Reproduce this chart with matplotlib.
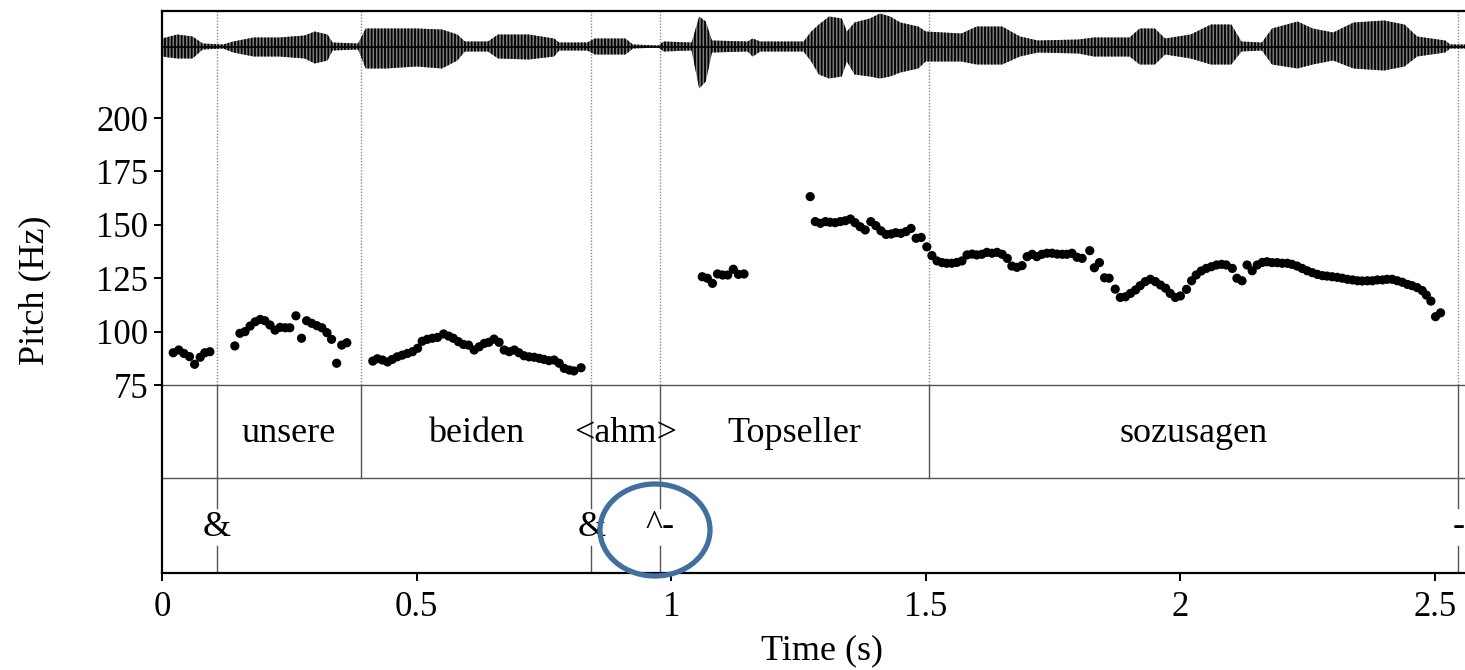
import matplotlib
matplotlib.use('Agg')
import matplotlib.pyplot as plt
import matplotlib.transforms as mtransforms
from matplotlib.patches import Ellipse

plt.rcParams['font.family'] = ['Liberation Serif', 'DejaVu Serif']
plt.rcParams['hatch.linewidth'] = 1.3

# ---------------- data ----------------
pitch_t = [
    0.022, 0.033, 0.043, 0.054, 0.064, 0.075, 0.084, 0.094,
    0.143, 0.153, 0.163, 0.173, 0.183, 0.193, 0.202, 0.212, 0.222, 0.232,
    0.242, 0.251, 0.263, 0.274, 0.284, 0.294, 0.304, 0.314, 0.324, 0.333,
    0.343, 0.353, 0.363,
    0.414, 0.423, 0.433, 0.443, 0.452, 0.462, 0.472, 0.482, 0.492, 0.502,
    0.511, 0.521, 0.531, 0.541, 0.553, 0.563, 0.572, 0.582, 0.592, 0.602,
    0.613, 0.623, 0.633, 0.642, 0.652, 0.662, 0.672, 0.682, 0.692, 0.701,
    0.711, 0.721, 0.731, 0.741, 0.750, 0.760, 0.770, 0.780, 0.790, 0.800,
    0.809, 0.823,
    1.061, 1.071, 1.081, 1.091, 1.101, 1.111, 1.122, 1.132, 1.143,
    1.273, 1.283, 1.293, 1.303, 1.312, 1.322, 1.332, 1.342, 1.352, 1.361,
    1.371, 1.381, 1.392, 1.402, 1.412, 1.422, 1.432, 1.441, 1.451, 1.461,
    1.471, 1.481, 1.491, 1.502, 1.512, 1.522, 1.532, 1.541, 1.551, 1.561,
    1.571, 1.581, 1.591, 1.600, 1.610, 1.620, 1.630, 1.640, 1.650, 1.660,
    1.669, 1.679, 1.689, 1.699, 1.709, 1.718, 1.728, 1.738, 1.748, 1.758,
    1.768, 1.777, 1.787, 1.797, 1.807, 1.822, 1.831, 1.841, 1.851, 1.860,
    1.872, 1.882, 1.892, 1.902, 1.912, 1.921, 1.931, 1.941, 1.951, 1.961,
    1.971, 1.980, 1.990, 2.000, 2.012, 2.022, 2.031, 2.041, 2.051, 2.061,
    2.071, 2.081, 2.090, 2.102, 2.111, 2.121, 2.131, 2.141, 2.151, 2.161,
    2.170, 2.180, 2.190, 2.200, 2.210, 2.219, 2.229, 2.239, 2.249, 2.259,
    2.269, 2.279, 2.288, 2.298, 2.308, 2.318, 2.328, 2.338, 2.348, 2.357,
    2.367, 2.377, 2.387, 2.397, 2.406, 2.416, 2.426, 2.436, 2.446, 2.455,
    2.465, 2.475, 2.483, 2.492, 2.501, 2.511,
]
pitch_hz = [
    90.1, 91.4, 89.8, 88.3, 84.7, 88.0, 90.1, 90.6,
    93.3, 99.2, 100.0, 102.6, 104.6, 105.7, 105.1, 103.1, 100.7, 102.0,
    101.8, 101.8, 107.4, 96.9, 105.1, 103.9, 102.8, 101.8, 99.5, 96.4,
    85.2, 93.7, 94.8,
    86.2, 87.3, 86.7, 85.8, 87.0, 88.2, 89.0, 89.8, 90.6, 92.2,
    95.5, 96.4, 96.9, 97.3, 98.9, 97.9, 96.9, 95.3, 94.0, 93.7,
    91.4, 92.9, 94.5, 95.0, 96.5, 95.0, 91.4, 90.6, 91.4, 90.1,
    88.7, 88.2, 88.0, 87.5, 87.0, 86.4, 86.7, 85.2, 82.8, 82.0,
    81.6, 83.1,
    125.7, 125.0, 122.6, 127.0, 126.5, 126.5, 129.2, 126.8, 127.0,
    163.2, 151.5, 150.7, 151.5, 151.2, 151.0, 151.5, 151.9, 152.7, 151.0,
    149.1, 147.6, 151.5, 149.6, 147.2, 145.5, 145.7, 146.3, 146.0, 146.8,
    148.3, 143.7, 144.1, 139.7, 135.6, 133.1, 132.3, 132.0, 132.0, 132.4,
    133.1, 135.9, 136.3, 135.9, 136.2, 137.1, 136.7, 137.1, 136.2, 134.3,
    130.7, 130.1, 130.9, 135.1, 136.2, 135.1, 136.2, 136.7, 136.7, 136.3,
    136.2, 136.2, 136.7, 134.8, 134.3, 137.9, 129.9, 132.3, 125.2, 125.0,
    119.9, 116.0, 116.3, 117.9, 119.5, 121.5, 123.4, 124.5, 123.4, 121.8,
    120.3, 117.9, 116.0, 116.7, 119.8, 123.8, 126.5, 128.4, 129.6, 130.4,
    131.2, 131.5, 131.2, 129.6, 125.0, 123.8, 131.2, 128.5, 131.2, 132.4,
    132.7, 132.3, 132.3, 132.0, 132.0, 131.5, 130.7, 129.6, 128.5, 127.6,
    126.8, 126.2, 126.0, 125.7, 125.4, 125.0, 124.5, 124.2, 123.8, 123.7,
    123.8, 123.8, 124.2, 124.2, 124.5, 124.5, 123.8, 123.1, 122.1, 121.5,
    120.6, 119.2, 117.1, 114.3, 107.0, 108.8,
]

# waveform amplitude envelope (pixels above / below centre)
wave_t = [0.00, 0.03, 0.06, 0.08, 0.12, 0.14, 0.18, 0.23, 0.28, 0.30,
          0.325, 0.335, 0.385, 0.40, 0.44, 0.50, 0.55, 0.58, 0.595, 0.64,
          0.66, 0.72, 0.77, 0.78, 0.835, 0.85, 0.91, 0.925, 0.975, 0.985,
          1.04, 1.055, 1.068, 1.08, 1.15, 1.16, 1.175, 1.26, 1.275, 1.29,
          1.31, 1.335, 1.345, 1.36, 1.39, 1.41, 1.43, 1.45, 1.485, 1.50,
          1.57, 1.60, 1.65, 1.685, 1.72, 1.80, 1.83, 1.90, 1.92, 1.95,
          1.97, 2.02, 2.06, 2.10, 2.12, 2.16, 2.18, 2.23, 2.26, 2.30,
          2.34, 2.40, 2.44, 2.465, 2.52, 2.53, 2.575]
wave_up = [8, 12, 10, 3, 2, 5, 9, 9, 11, 15,
           12, 4, 3, 18, 18, 18, 17, 12, 5, 5,
           12, 12, 8, 4, 4, 8, 8, 2, 1, 5,
           4, 30, 25, 6, 5, 8, 5, 5, 15, 22,
           30, 28, 15, 24, 28, 33, 30, 24, 20, 15,
           13, 20, 20, 10, 6, 7, 9, 9, 18, 18,
           8, 12, 22, 22, 5, 4, 18, 25, 18, 14,
           24, 26, 22, 10, 6, 2, 2]
wave_down = [10, 12, 12, 3, 2, 6, 10, 10, 12, 17,
             14, 4, 3, 22, 22, 20, 22, 14, 5, 5,
             12, 13, 10, 4, 4, 8, 8, 2, 1, 5,
             4, 42, 35, 6, 5, 10, 5, 5, 15, 28,
             32, 30, 15, 28, 30, 32, 30, 26, 22, 15,
             15, 18, 18, 10, 6, 7, 10, 10, 18, 18,
             8, 12, 18, 18, 5, 4, 18, 22, 18, 14,
             22, 24, 20, 10, 6, 2, 2]

interval_bounds = [0.108, 0.391, 0.843, 0.978, 1.507, 2.546]
interval_labels = ['unsere', 'beiden', '<ahm>', 'Topseller', 'sozusagen']
point_times = [0.108, 0.843, 0.978, 2.546]
point_labels = ['&', '&', '^-', '-']

x_ticks = [0, 0.5, 1, 1.5, 2, 2.5]
x_ticklabels = ['0', '0.5', '1', '1.5', '2', '2.5']
y_ticks = [75, 100, 125, 150, 175, 200]

# ---------------- layout ----------------
W, H = 1465, 670
X0, XR = 162, 509.2
XMAX = 2.575
fig = plt.figure(figsize=(W / 100, H / 100), dpi=100)
ax = fig.add_axes([X0 / W, (H - 573) / H, XMAX * XR / W, 562 / H])
ax.set_xlim(0, XMAX)
ax.set_ylim(-13.0, 250.1)
for sp in ax.spines.values():
    sp.set_linewidth(1.6)

trans = mtransforms.blended_transform_factory(ax.transData, ax.transAxes)
f75 = (75 - (-13.0)) / (250.1 + 13.0)
fmid = (573 - 478) / 562

# tier lines
ax.plot([0, XMAX], [f75, f75], color='#555555', lw=1.0, transform=trans)
ax.plot([0, XMAX], [fmid, fmid], color='#555555', lw=1.0, transform=trans)

# boundaries: dotted in signal area, solid in interval tier
for b in interval_bounds:
    ax.plot([b, b], [f75, 1], color='#8a8a8a', lw=1.0, ls=(0, (1, 1.2)), transform=trans)
    ax.plot([b, b], [fmid, f75], color='#555555', lw=1.0, transform=trans)

edges = interval_bounds
tier1_y = (573 - 434) / 562
for i, lab in enumerate(interval_labels):
    xc = 0.5 * (edges[i] + edges[i + 1])
    ax.text(xc, tier1_y, lab, transform=trans, ha='center', va='center', fontsize=26)

# point tier
gap_lo = (573 - 546) / 562
gap_hi = (573 - 508) / 562
tier2_y = (573 - 527) / 562
for pt, lab in zip(point_times, point_labels):
    ax.plot([pt, pt], [gap_hi, fmid], color='#555555', lw=1.0, transform=trans)
    ax.plot([pt, pt], [0, gap_lo], color='#555555', lw=1.0, transform=trans)
    ax.text(pt, tier2_y, lab, transform=trans, ha='center', va='center', fontsize=26)

# pitch
ax.scatter(pitch_t, pitch_hz, s=44, c='black', edgecolors='none', zorder=3)

ax.set_xticks(x_ticks)
ax.set_xticklabels(x_ticklabels)
ax.set_yticks(y_ticks)
ax.tick_params(direction='out', length=6, width=1.4, labelsize=25, pad=4)
ax.tick_params(axis='x', pad=7)

fig.text(35 / W, 1 - 290 / H, 'Pitch (Hz)', rotation=90, ha='center', va='center', fontsize=26)
fig.text(822 / W, 1 - 651 / H, 'Time (s)', ha='center', va='center', fontsize=26)

# waveform
wax = fig.add_axes([X0 / W, 1 - 92 / H, XMAX * XR / W, 91 / H])
wax.set_xlim(0, XMAX)
wax.set_ylim(-45.5, 45.5)
wax.axis('off')
wax.patch.set_alpha(0)
neg = [-d for d in wave_down]
wax.fill_between(wave_t, neg, wave_up, facecolor='black', alpha=0.5, linewidth=0)
wax.fill_between(wave_t, neg, wave_up, facecolor='none', edgecolor='black', hatch='|||||',
                 linewidth=0)
wax.plot(wave_t, [0] * len(wave_t), color='black', lw=1.2)

# annotation ellipse
fig.add_artist(Ellipse((655 / W, 1 - 530 / H), 110 / W, 92 / H, transform=fig.transFigure,
                       fill=False, edgecolor='#41709f', lw=3.8))

fig.savefig('out.png', dpi=100)
